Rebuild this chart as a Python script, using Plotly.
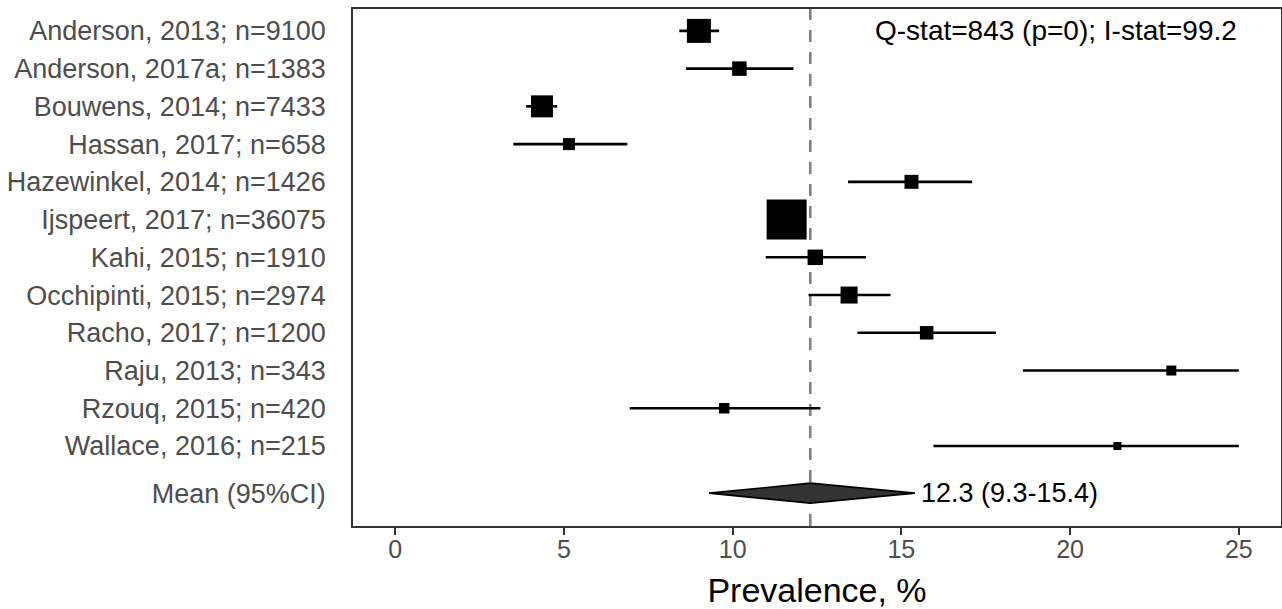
import plotly.graph_objects as go

# Study-level prevalence estimates (%) with 95% confidence intervals
studies = [
    "Anderson, 2013; n=9100",
    "Anderson, 2017a; n=1383",
    "Bouwens, 2014; n=7433",
    "Hassan, 2017; n=658",
    "Hazewinkel, 2014; n=1426",
    "Ijspeert, 2017; n=36075",
    "Kahi, 2015; n=1910",
    "Occhipinti, 2015; n=2974",
    "Racho, 2017; n=1200",
    "Raju, 2013; n=343",
    "Rzouq, 2015; n=420",
    "Wallace, 2016; n=215",
]
estimate = [9.0, 10.2, 4.35, 5.15, 15.3, 11.6, 12.45, 13.45, 15.75, 23.0, 9.75, 21.4]
ci_low = [8.42, 8.62, 3.88, 3.5, 13.42, 11.3, 10.98, 12.25, 13.7, 18.6, 6.95, 15.95]
ci_high = [9.6, 11.8, 4.8, 6.88, 17.1, 11.9, 13.95, 14.68, 17.8, 25.0, 12.6, 25.0]
# Marker side length reflects study weight
weight_size = [24, 14.5, 22, 12, 14, 40, 15.5, 17, 13.5, 10, 10.5, 8]

# Pooled random-effects estimate
pooled_label = "Mean (95%CI)"
pooled_est = 12.3
pooled_low = 9.3
pooled_high = 15.4
q_stat = 843
q_p = 0
i_stat = 99.2

x_ticks = [0, 5, 10, 15, 20, 25]
x_title = "Prevalence, %"

# Vertical layout: studies top to bottom, pooled row set a little apart
n = len(studies)
y_study = [n + 1 - i for i in range(n)]
y_pool = 0.75
diamond_half = 0.265

FONT = "Liberation Sans, Arial, sans-serif"
AXIS_GREY = "#4d4d4d"
FRAME = "#333333"

fig = go.Figure()

fig.add_trace(go.Scatter(
    x=estimate,
    y=y_study,
    mode="markers",
    marker=dict(symbol="square", size=weight_size, color="black",
                opacity=1, line=dict(width=0)),
    error_x=dict(
        type="data",
        symmetric=False,
        array=[h - e for h, e in zip(ci_high, estimate)],
        arrayminus=[e - l for e, l in zip(estimate, ci_low)],
        color="black",
        thickness=2.6,
        width=0,
    ),
    hoverinfo="skip",
    showlegend=False,
))

fig.add_trace(go.Scatter(
    x=[pooled_low, pooled_est, pooled_high, pooled_est, pooled_low],
    y=[y_pool, y_pool + diamond_half, y_pool, y_pool - diamond_half, y_pool],
    mode="lines",
    fill="toself",
    fillcolor="#333333",
    line=dict(color="black", width=1.6),
    hoverinfo="skip",
    showlegend=False,
))

# Reference line at the pooled estimate
fig.add_shape(
    type="line", xref="x", yref="paper",
    x0=pooled_est, x1=pooled_est, y0=0, y1=1,
    line=dict(color="#808080", width=2.6, dash="12px,10px"),
    layer="below",
)

fig.add_annotation(
    x=25, y=y_study[0], xref="x", yref="y",
    text=f"Q-stat={q_stat} (p={q_p}); I-stat={i_stat}",
    showarrow=False, xanchor="right", yanchor="middle",
    font=dict(family=FONT, size=28, color="black"),
)
fig.add_annotation(
    x=pooled_high, y=y_pool, xref="x", yref="y",
    text=f"{pooled_est} ({pooled_low}-{pooled_high})",
    showarrow=False, xanchor="left", yanchor="middle", xshift=4,
    font=dict(family=FONT, size=27, color="black"),
)

fig.update_layout(
    width=1282,
    height=609,
    margin=dict(l=353, r=1, t=9, b=83),
    paper_bgcolor="white",
    plot_bgcolor="white",
    font=dict(family=FONT),
    xaxis=dict(
        range=[-1.25, 26.25],
        tickvals=x_ticks,
        ticktext=[str(v) for v in x_ticks],
        ticks="outside",
        ticklen=7,
        tickwidth=1.6,
        tickcolor=FRAME,
        ticklabelstandoff=-7,
        tickfont=dict(family=FONT, size=25, color=AXIS_GREY),
        showgrid=False,
        zeroline=False,
        showline=True,
        mirror=True,
        linecolor=FRAME,
        linewidth=1.6,
        title=dict(text=x_title, font=dict(family=FONT, size=34, color="black"), standoff=16),
        automargin=False,
    ),
    yaxis=dict(
        range=[-0.12, 13.58],
        tickvals=y_study + [y_pool],
        ticktext=studies + [pooled_label],
        ticks="",
        ticklabelstandoff=20,
        tickfont=dict(family=FONT, size=27, color=AXIS_GREY),
        showgrid=False,
        zeroline=False,
        showline=True,
        mirror=True,
        linecolor=FRAME,
        linewidth=1.6,
        automargin=False,
    ),
)

fig.write_html("out.html")
